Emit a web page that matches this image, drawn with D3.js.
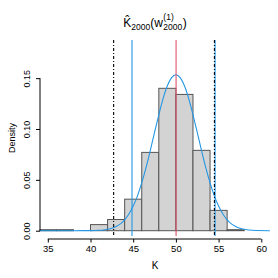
<!DOCTYPE html>
<html>
<head>
<meta charset="utf-8">
<script src="https://cdn.jsdelivr.net/npm/d3@7"></script>
<style>
  body { margin: 0; background: #fff; }
  text { font-family: "Liberation Sans", Arial, Helvetica, sans-serif; fill: #000; }
</style>
</head>
<body>
<script>
// histogram bins (left/right breaks) and densities
const binStarts = [34, 36, 38, 40, 42, 44, 46, 48, 50, 52, 54, 56]
const binEnds = [36, 38, 40, 42, 44, 46, 48, 50, 52, 54, 56, 58]
const densities = [0.001, 0.001, 0, 0.006, 0.011, 0.031, 0.077, 0.140, 0.134, 0.079, 0.020, 0.001]

// fitted density curve
const curveX = [34, 38, 40, 41, 41.5, 42, 42.5, 43, 43.5, 44, 44.5, 45, 45.5, 46, 46.5, 47, 47.5, 48, 48.5, 49, 49.5, 50,
  50.5, 51, 51.5, 52, 52.5, 53, 53.5, 54, 54.5, 55, 55.5, 56, 56.5, 57, 57.5, 58, 59, 61]
const curveY = [0, 0, 0.0001, 0.0004, 0.0007, 0.0014, 0.0024, 0.0041, 0.0067, 0.0107, 0.0164, 0.0242, 0.0343, 0.047, 0.062, 0.0788, 0.0966, 0.114, 0.1299, 0.1425, 0.1506, 0.1534,
  0.1506, 0.1425, 0.1299, 0.114, 0.0966, 0.0788, 0.062, 0.047, 0.0343, 0.0242, 0.0164, 0.0107, 0.0067, 0.0041, 0.0024, 0.0014, 0.0004, 0]

// vertical reference lines
const blackLines = [42.71, 54.51]
const blueLines = [44.86, 54.59]
const redLines = [50.02]

const xTicks = [35, 40, 45, 50, 55, 60]
const yTicks = [0, 0.05, 0.1, 0.15]

const w = 278
const h = 278
const plot = { left: 39.5, right: 270, top: 40, bottom: 236 }

const blue = '#2297E6'
const red = '#DF536B'

const xScale = d3.scaleLinear().domain([35, 60]).range([47.8, 261.3])
const yScale = d3.scaleLinear().domain([0, 0.1]).range([230.7, 129])

const svg = d3.select('body').append('svg').attr('width', w).attr('height', h)

svg.append('defs').append('clipPath').attr('id', 'clip')
  .append('rect')
  .attr('x', plot.left).attr('y', plot.top)
  .attr('width', plot.right - plot.left).attr('height', plot.bottom - plot.top)

const g = svg.append('g').attr('clip-path', 'url(#clip)')

g.selectAll('rect.bar')
  .data(densities)
  .enter()
  .append('rect')
  .attr('class', 'bar')
  .attr('x', (d, i) => xScale(binStarts[i]))
  .attr('y', (d) => yScale(d))
  .attr('width', (d, i) => xScale(binEnds[i]) - xScale(binStarts[i]))
  .attr('height', (d) => yScale(0) - yScale(d))
  .attr('fill', '#d3d3d3')
  .attr('stroke', '#555')
  .attr('stroke-width', 1)

const line = d3.line()
  .x((d) => xScale(d[0]))
  .y((d) => yScale(d[1]))
  .curve(d3.curveMonotoneX)

g.append('path')
  .datum(curveX.map((x, i) => [x, curveY[i]]))
  .attr('d', line)
  .attr('fill', 'none')
  .attr('stroke', blue)
  .attr('stroke-width', 1.1)

const vline = (vals, color, dash) => {
  g.selectAll(null)
    .data(vals)
    .enter()
    .append('line')
    .attr('x1', (d) => xScale(d)).attr('x2', (d) => xScale(d))
    .attr('y1', plot.top).attr('y2', plot.bottom)
    .attr('stroke', color)
    .attr('stroke-width', 1.1)
    .attr('stroke-dasharray', dash)
}
vline(redLines, red, null)
vline(blueLines, blue, null)
vline(blackLines, '#000', '3,2,1,2')

// x axis (R style: line spans first to last tick)
const xAxis = d3.axisBottom(xScale).tickValues(xTicks).tickSize(3.5).tickPadding(2.5)
const xg = svg.append('g').attr('transform', 'translate(0,239)').call(xAxis)
xg.selectAll('text').style('font-size', '9.5px').style('font-family', '"Liberation Sans", Arial, sans-serif')
xg.select('.domain').attr('d', `M${xScale(35)},0H${xScale(60)}`)

const yAxis = d3.axisLeft(yScale).tickValues(yTicks).tickSize(4).tickFormat(d3.format('.2f'))
const yg = svg.append('g').attr('transform', 'translate(40,0)').call(yAxis)
yg.select('.domain').attr('d', `M0,${yScale(0)}V${yScale(0.15)}`)
yg.selectAll('text')
  .attr('x', null).attr('dy', null).attr('y', 0)
  .attr('text-anchor', 'middle')
  .attr('transform', 'translate(-10.5,0) rotate(-90)')
  .style('font-size', '9px')
  .style('font-family', '"Liberation Sans", Arial, sans-serif')

svg.append('text')
  .attr('x', 155).attr('y', 269)
  .attr('text-anchor', 'middle')
  .style('font-size', '10px')
  .text('K')

svg.append('text')
  .attr('transform', 'translate(15,138) rotate(-90)')
  .attr('text-anchor', 'middle')
  .style('font-size', '9px')
  .text('Density')

// title: K-hat_2000 ( w^(1)_2000 )
const title = svg.append('g')
const big = 12
const small = 8.5
const base = 27
let cx = 0
const piece = (txt, size, dy) => {
  const t = title.append('text')
    .attr('x', cx).attr('y', base + dy)
    .style('font-size', size + 'px')
    .text(txt)
  return t
}
const k = piece('K\u0302', big, 0)
cx += k.node().getComputedTextLength()
const s1 = piece('2000', small, 3)
cx += s1.node().getComputedTextLength()
const p = piece('(w', big, 0)
cx += p.node().getComputedTextLength() + 0.5
const sup = piece('(1)', small, -7)
const sub = piece('2000', small, 3)
cx += Math.max(sup.node().getComputedTextLength(), sub.node().getComputedTextLength()) + 0.5
const cl = piece(')', big, 0)
cx += cl.node().getComputedTextLength()
title.attr('transform', `translate(${155 - cx / 2},0)`)
</script>
</body>
</html>
